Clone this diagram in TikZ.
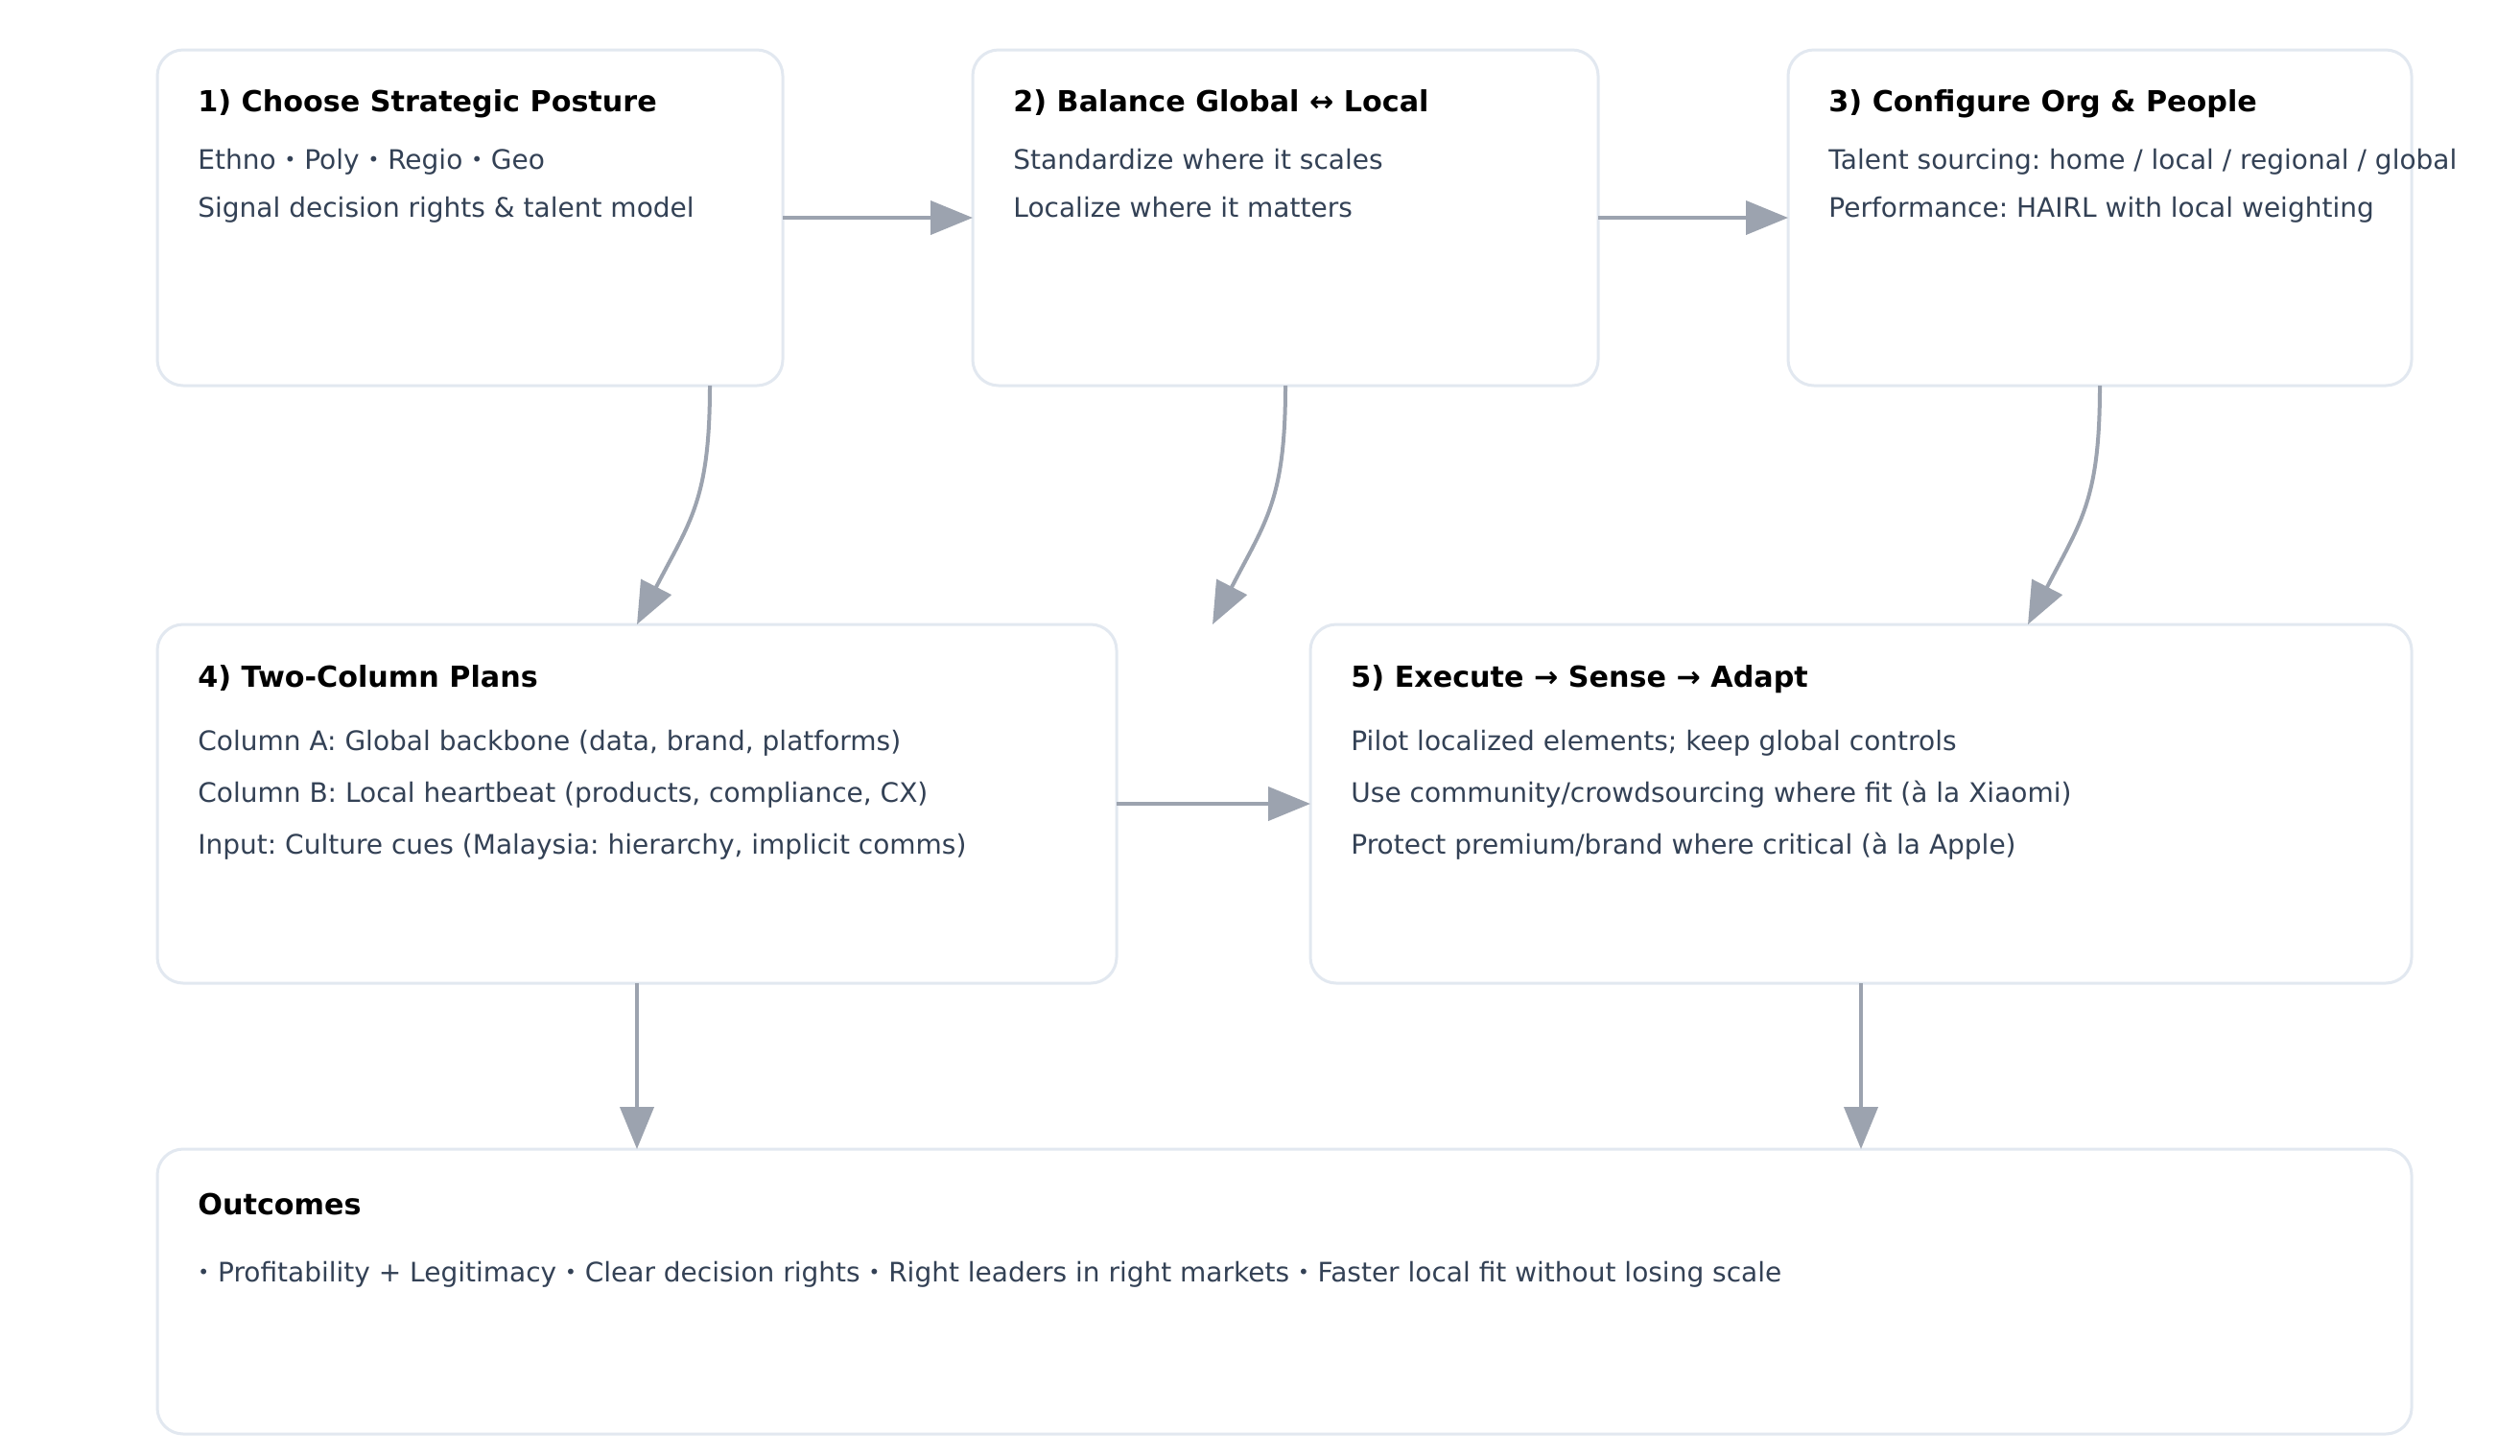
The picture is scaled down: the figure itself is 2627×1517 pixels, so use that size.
\documentclass[tikz,border=0pt]{standalone}
\usepackage{fontspec}
\setmainfont{DejaVu Sans}
\frenchspacing
\usetikzlibrary{arrows.meta,calc}
\definecolor{boxborder}{HTML}{E2E8F0}
\definecolor{arrowgray}{HTML}{9CA3AF}
\definecolor{bodytext}{HTML}{334155}
\definecolor{titletext}{HTML}{000000}
\newcommand{\smallbul}{\raisebox{1.3pt}{\fontsize{10}{12}\selectfont •}}
\tikzset{
  panel/.style={draw=boxborder, line width=1.5pt, fill=white, rounded corners=13.5pt,
    rectangle, anchor=north west, inner sep=0pt, outer sep=0pt},
  ttl/.style={anchor=base west, inner sep=0pt, text=titletext,
    font=\fontsize{15.1}{18}\selectfont\bfseries},
  txt/.style={anchor=base west, inner sep=0pt, text=bodytext,
    font=\fontsize{14}{17}\selectfont},
  arr/.style={draw=arrowgray, line width=2pt,
    -{Triangle[length=22pt,width=17.5pt]}, arrowgray},
}
\begin{document}
\begin{tikzpicture}[x=0.5pt,y=-0.5pt]
\useasboundingbox[fill=white] (0,0) rectangle (2627,1517);

% boxes
\node[panel, minimum width=326pt, minimum height=175pt] (b1) at (164,52) {};
\node[panel, minimum width=326pt, minimum height=175pt] (b2) at (1014,52) {};
\node[panel, minimum width=325pt, minimum height=175pt] (b3) at (1864,52) {};
\node[panel, minimum width=500pt, minimum height=187pt] (b4) at (164,651) {};
\node[panel, minimum width=574pt, minimum height=187pt] (b5) at (1366,651) {};
\node[panel, minimum width=1175pt, minimum height=148.5pt] (bo) at (164,1198) {};

% texts box 1
\node[ttl] (t1) at ($(b1.north west)+(42,64)$) {1) Choose Strategic Posture};
\node[txt] (t1a) at ($(b1.north west)+(42,124)$) {Ethno \smallbul{} Poly \smallbul{} Regio \smallbul{} Geo};
\node[txt] (t1b) at ($(b1.north west)+(42,174)$) {Signal decision rights \& talent model};

% texts box 2
\node[ttl] (t2) at ($(b2.north west)+(42,64)$) {2) Balance Global ↔ Local};
\node[txt] (t2a) at ($(b2.north west)+(42,124)$) {Standardize where it scales};
\node[txt] (t2b) at ($(b2.north west)+(42,174)$) {Localize where it matters};

% texts box 3
\node[ttl] (t3) at ($(b3.north west)+(42,64)$) {3) Configure Org \& People};
\node[txt] (t3a) at ($(b3.north west)+(42,124)$) {Talent sourcing: home / local / regional / global};
\node[txt] (t3b) at ($(b3.north west)+(42,174)$) {Performance: HAIRL with local weighting};

% texts box 4
\node[ttl] (t4) at ($(b4.north west)+(42,65)$) {4) Two-Column Plans};
\node[txt] (t4a) at ($(b4.north west)+(42,131)$) {Column A: Global backbone (data, brand, platforms)};
\node[txt] (t4b) at ($(b4.north west)+(42,185)$) {Column B: Local heartbeat (products, compliance, CX)};
\node[txt] (t4c) at ($(b4.north west)+(42,239)$) {Input: Culture cues (Malaysia: hierarchy, implicit comms)};

% texts box 5
\node[ttl] (t5) at ($(b5.north west)+(42,65)$) {5) Execute → Sense → Adapt};
\node[txt] (t5a) at ($(b5.north west)+(42,131)$) {Pilot localized elements; keep global controls};
\node[txt] (t5b) at ($(b5.north west)+(42,185)$) {Use community/crowdsourcing where fit (à la Xiaomi)};
\node[txt] (t5c) at ($(b5.north west)+(42,239)$) {Protect premium/brand where critical (à la Apple)};

% outcomes
\node[ttl] (to) at ($(bo.north west)+(42,68)$) {Outcomes};
\node[txt] (toa) at ($(bo.north west)+(42,138)$) {\smallbul{} Profitability + Legitimacy \smallbul{} Clear decision rights \smallbul{} Right leaders in right markets \smallbul{} Faster local fit without losing scale};

% straight connectors
\draw[arr] (b1.east) -- (b2.west);
\draw[arr] (b2.east) -- (b3.west);
\draw[arr] (b4.east) -- (b5.west);
\draw[arr] (b4.south) -- (b4.south |- bo.north);
\draw[arr] (b5.south) -- (b5.south |- bo.north);

% curved connectors
\coordinate (c1s) at ($(b1.south west)+(576,0)$);
\coordinate (c2e) at ($(b2.south)+(-76,249)$);
\coordinate (c3e) at ($(b5.north west)+(748,0)$);
\draw[arr] (c1s) .. controls +(0,120) and +(55,-107) .. (b4.north);
\draw[arr] (b2.south) .. controls +(0,120) and +(55,-107) .. (c2e);
\draw[arr] (b3.south) .. controls +(0,120) and +(55,-107) .. (c3e);
\end{tikzpicture}
\end{document}
